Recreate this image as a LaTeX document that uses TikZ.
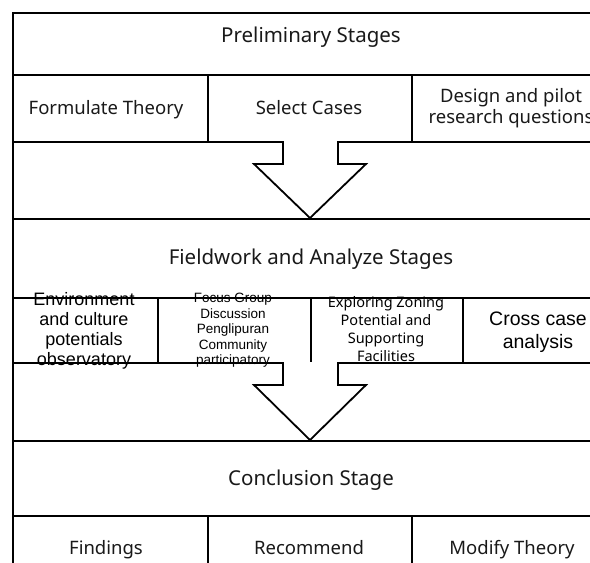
\documentclass[tikz,border=0pt]{standalone}
\usepackage{fontspec}
\setmainfont{Noto Sans}
\newfontfamily\arialf{Liberation Sans}
\begin{document}
\begin{tikzpicture}[x=1pt,y=-1pt,
  frame/.style={draw=black, line width=1.8pt, inner sep=0pt, anchor=north west},
  hdr/.style={font=\fontsize{20.5}{24}\selectfont, text=black!90, inner sep=0pt, anchor=base},
  sub/.style={font=\fontsize{18.5}{21}\selectfont, text=black!90, align=center, inner sep=0pt, anchor=base},
  blockarrow/.style={draw=black, line width=1.8pt, fill=white, line join=miter}]
\useasboundingbox (0,0) rectangle (590,563);
\clip (0,0) rectangle (590,563);
\fill[white] (0,0) rectangle (590,563);

% Preliminary stages
\node[frame, minimum width=602pt, minimum height=62pt] (prelim) at (12,12) {};
\node[hdr] (prelimT) at (311,42) {Preliminary Stages};
\node[frame, minimum width=195pt, minimum height=67pt] (c11) at (12,74) {};
\node[frame, minimum width=204pt, minimum height=67pt] (c12) at (207,74) {};
\node[frame, minimum width=203pt, minimum height=67pt] (c13) at (411,74) {};
\node[sub] (t11) at (106,114) {Formulate Theory};
\node[sub] (t12) at (309,114) {Select Cases};
\node[font=\fontsize{18.5}{21}\selectfont, text=black!90, align=center, inner sep=0pt] (t13) at (511,108)
  {Design and pilot\\research questions};

% gap 1
\node[frame, minimum width=602pt, minimum height=77pt] (gap1) at (12,141) {};

% Fieldwork
\node[frame, minimum width=602pt, minimum height=79pt] (field) at (12,218) {};
\node[hdr] (fieldT) at (311,264) {Fieldwork and Analyze Stages};
\node[frame, minimum width=145pt, minimum height=65pt] (c21) at (12,297) {};
\node[frame, minimum width=153pt, minimum height=65pt] (c22) at (157,297) {};
\node[frame, minimum width=152pt, minimum height=65pt] (c23) at (310,297) {};
\node[frame, minimum width=152pt, minimum height=65pt] (c24) at (462,297) {};
\node[align=center, inner sep=0pt, font=\arialf\fontsize{18}{20}\selectfont] (t21) at (84,331)
  {Environment\\and culture\\potentials\\observatory};
\node[align=center, inner sep=0pt, font=\arialf\fontsize{13.5}{15.5}\selectfont] (t22) at (233,330.5)
  {Focus Group\\Discussion\\Penglipuran\\Community\\participatory};
\node[align=center, inner sep=0pt, font=\fontsize{14.5}{18}\selectfont] (t23) at (386,329.5)
  {Exploring Zoning\\Potential and\\Supporting\\Facilities};
\node[align=center, inner sep=0pt, font=\arialf\fontsize{19.5}{23}\selectfont] (t24) at (538,332)
  {Cross case\\analysis};

% gap 2
\node[frame, minimum width=602pt, minimum height=78pt] (gap2) at (12,362) {};

% Conclusion
\node[frame, minimum width=602pt, minimum height=75pt] (concl) at (12,440) {};
\node[hdr] (conclT) at (311,485) {Conclusion Stage};
\node[frame, minimum width=195pt, minimum height=64pt] (c31) at (12,515) {};
\node[frame, minimum width=204pt, minimum height=64pt] (c32) at (207,515) {};
\node[frame, minimum width=203pt, minimum height=64pt] (c33) at (411,515) {};
\node[sub] (t31) at (106,554) {Findings};
\node[sub] (t32) at (309,554) {Recommend};
\node[sub] (t33) at (512,554) {Modify Theory};

% block arrows
\coordinate (a1) at (310,218);
\draw[blockarrow] (283,141) -- (283,164) -- (254,164) -- (a1) -- (366,164) -- (338,164) -- (338,141);
\coordinate (a2) at (310,440);
\draw[blockarrow] (283,362) -- (283,385) -- (254,385) -- (a2) -- (366,385) -- (338,385) -- (338,362);
\end{tikzpicture}
\end{document}
